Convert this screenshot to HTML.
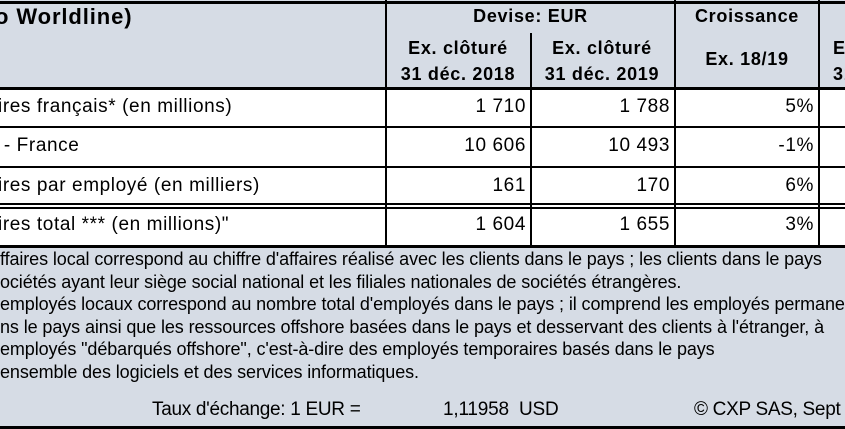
<!DOCTYPE html>
<html><head><meta charset="utf-8"><style>
body{margin:0;width:845px;height:429px;overflow:hidden;background:#fff;font-family:"Liberation Sans",Arial,sans-serif;color:#000;position:relative}
.a{position:absolute;white-space:nowrap}
.bg{background:#d6dce5}
.h{background:#000}
.b{font-weight:bold}
.r{text-align:right}
.c{text-align:center}
.t{font-size:19px;letter-spacing:0.6px}
.hd{font-size:18px;letter-spacing:0.7px}
.f{font-size:18px;letter-spacing:-0.1px}
</style></head><body>
<div class="a bg" style="left:0;top:0;width:845px;height:88px"></div>
<div class="a bg" style="left:0;top:246px;width:845px;height:183px"></div>
<div class="a h" style="left:0;top:1px;width:845px;height:3px"></div>
<div class="a h" style="left:0;top:87px;width:845px;height:3px"></div>
<div class="a h" style="left:0;top:126px;width:845px;height:2px"></div>
<div class="a h" style="left:0;top:166px;width:845px;height:2px"></div>
<div class="a h" style="left:0;top:203px;width:845px;height:2px"></div>
<div class="a h" style="left:0;top:207px;width:845px;height:2px"></div>
<div class="a h" style="left:0;top:245px;width:845px;height:3px"></div>
<div class="a h" style="left:0;top:426px;width:845px;height:3px"></div>
<div class="a h" style="left:385px;top:0;width:2px;height:247px"></div>
<div class="a h" style="left:530px;top:33px;width:2px;height:214px"></div>
<div class="a h" style="left:674px;top:0;width:2px;height:247px"></div>
<div class="a h" style="left:818px;top:0;width:2px;height:247px"></div>
<div class="a b" style="left:-5px;top:4px;font-size:22px;letter-spacing:0.9px">o Worldline)</div>
<div class="a b c hd" style="left:387px;top:6px;width:287px">Devise: EUR</div>
<div class="a b c hd" style="left:676px;top:6px;width:142px">Croissance</div>
<div class="a b c hd" style="left:373px;top:35px;width:170px;line-height:26px">Ex. clôturé<br>31 déc. 2018</div>
<div class="a b c hd" style="left:517px;top:35px;width:170px;line-height:26px">Ex. clôturé<br>31 déc. 2019</div>
<div class="a b c hd" style="left:676px;top:49px;width:142px">Ex. 18/19</div>
<div class="a b hd" style="left:833px;top:35px;line-height:26px">E<br>31</div>
<div class="a t" style="left:-2px;top:96px">ires français* (en millions)</div>
<div class="a t r" style="left:386px;top:96px;width:140px">1 710</div>
<div class="a t r" style="left:531px;top:96px;width:139px">1 788</div>
<div class="a t r" style="left:675px;top:96px;width:139px">5%</div>
<div class="a t" style="left:-2px;top:135px">&nbsp;- France</div>
<div class="a t r" style="left:386px;top:135px;width:140px">10 606</div>
<div class="a t r" style="left:531px;top:135px;width:139px">10 493</div>
<div class="a t r" style="left:675px;top:135px;width:139px">-1%</div>
<div class="a t" style="left:-2px;top:175px">ires par employé (en milliers)</div>
<div class="a t r" style="left:386px;top:175px;width:140px">161</div>
<div class="a t r" style="left:531px;top:175px;width:139px">170</div>
<div class="a t r" style="left:675px;top:175px;width:139px">6%</div>
<div class="a t" style="left:-2px;top:214px">ires total *** (en millions)"</div>
<div class="a t r" style="left:386px;top:214px;width:140px">1 604</div>
<div class="a t r" style="left:531px;top:214px;width:139px">1 655</div>
<div class="a t r" style="left:675px;top:214px;width:139px">3%</div>
<div class="a f" style="left:0;top:249px">ffaires local correspond au chiffre d'affaires réalisé avec les clients dans le pays ; les clients dans le pays</div>
<div class="a f" style="left:0;top:272px">ociétés ayant leur siège social national et les filiales nationales de sociétés étrangères.</div>
<div class="a f" style="left:0;top:294px">employés locaux correspond au nombre total d'employés dans le pays ; il comprend les employés permanents</div>
<div class="a f" style="left:0;top:317px">ns le pays ainsi que les ressources offshore basées dans le pays et desservant des clients à l'étranger, à</div>
<div class="a f" style="left:0;top:339px">employés "débarqués offshore", c'est-à-dire des employés temporaires basés dans le pays</div>
<div class="a f" style="left:0;top:362px">ensemble des logiciels et des services informatiques.</div>
<div class="a" style="left:152px;top:399px;font-size:19px;letter-spacing:-0.3px">Taux d'échange: 1 EUR =</div>
<div class="a" style="left:443px;top:399px;font-size:19px;letter-spacing:-0.2px">1,11958&nbsp; USD</div>
<div class="a" style="left:694px;top:399px;font-size:19px;letter-spacing:-0.3px">© CXP SAS, Sept</div>
</body></html>
